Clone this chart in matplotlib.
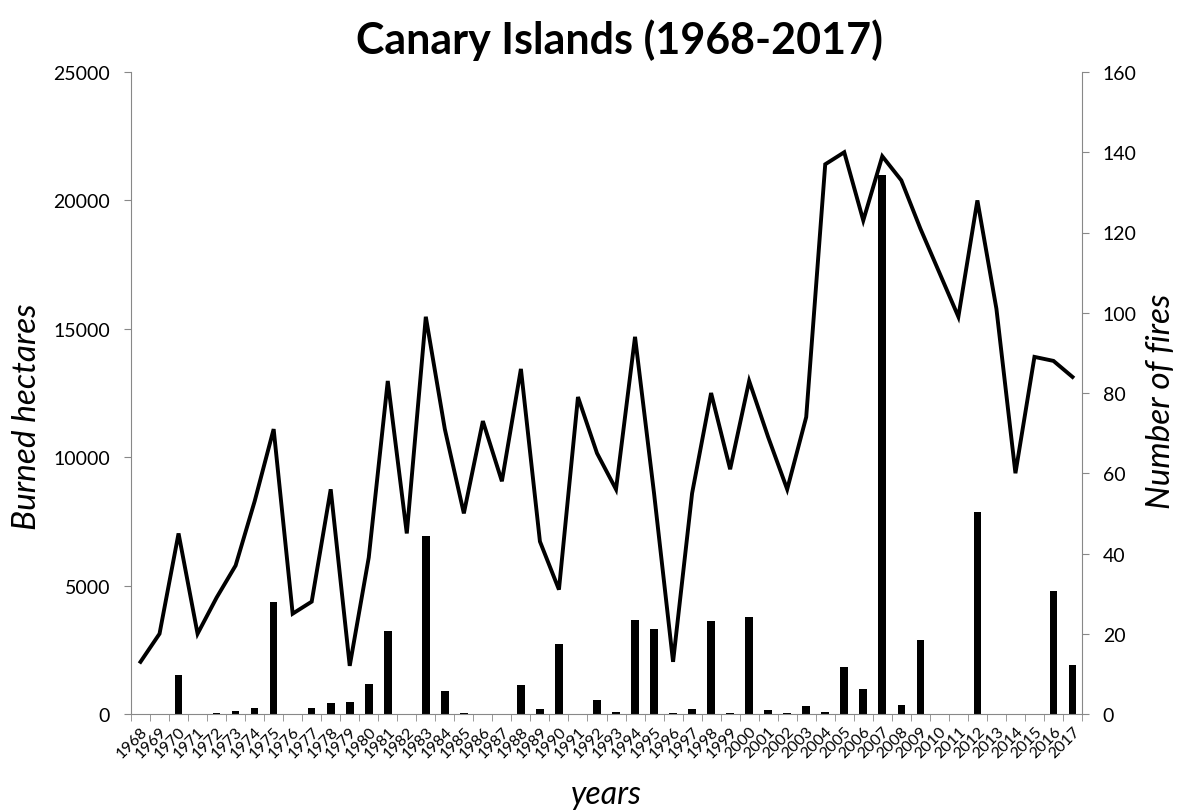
import numpy as np
import matplotlib
matplotlib.use("AGG")
import matplotlib.pyplot as plt

plt.rcParams['font.family'] = ['Lato', 'DejaVu Sans']

years = list(range(1968, 2018))

# burned hectares per year (bars, left axis)
hectares = [0, 0, 1530, 10, 50, 130, 245, 4380, 10, 220,
            430, 480, 1180, 3240, 10, 6920, 880, 50, 0, 0,
            1115, 180, 2725, 10, 560, 90, 3670, 3310, 50, 210,
            3630, 50, 3775, 155, 50, 325, 80, 1830, 985, 21000,
            350, 2870, 0, 0, 7870, 10, 0, 5, 4780, 1910]

# number of fires per year (line, right axis)
fires = [13, 20, 45, 20, 29, 37, 53, 71, 25, 28,
         56, 12, 39, 83, 45, 99, 71, 50, 73, 58,
         86, 43, 31, 79, 65, 56, 94, 55, 13, 55,
         80, 61, 83, 69, 56, 74, 137, 140, 123, 139,
         133, 121, 110, 99, 128, 101, 60, 89, 88, 84]

axis_grey = '#888888'
W, H = 1182, 812

fig = plt.figure(figsize=(W / 100, H / 100), dpi=100)
ax = fig.add_axes([131 / W, 1 - 715 / H, (1082 - 131) / W, (715 - 73) / H])
x = np.arange(len(years))

ax.bar(x, hectares, width=0.4, color='black', zorder=2)
ax.set_xlim(-0.5, len(years) - 0.5)
ax.set_ylim(0, 25000)
ax.set_yticks([0, 5000, 10000, 15000, 20000, 25000])
ax.set_xticks(x)
ax.set_xticklabels([str(y) for y in years], rotation=45, ha='right',
                   rotation_mode='anchor', fontsize=11.5)
ax.set_xticks(np.arange(-0.5, len(years)), minor=True)
ax.tick_params(axis='x', which='major', length=0, pad=7)
ax.tick_params(axis='x', which='minor', length=5, color=axis_grey)
ax.tick_params(axis='y', length=5, color=axis_grey, labelsize=14, pad=10)
for side in ['top', 'right']:
    ax.spines[side].set_visible(False)
for side in ['left', 'bottom']:
    ax.spines[side].set_color(axis_grey)

ax2 = ax.twinx()
ax2.plot(x, fires, color='black', lw=2.8, solid_joinstyle='miter', zorder=3)
ax2.set_ylim(0, 160)
ax2.set_yticks(range(0, 161, 20))
ax2.tick_params(axis='y', length=5, color=axis_grey, labelsize=14, pad=10)
for side in ['top', 'left', 'bottom']:
    ax2.spines[side].set_visible(False)
ax2.spines['right'].set_color(axis_grey)

# axis titles placed like the original
fig.text(27 / W, 1 - 417 / H, 'Burned hectares', rotation=90, fontsize=24,
         style='italic', ha='center', va='center')
fig.text(1161 / W, 1 - 401 / H, 'Number of fires', rotation=90, fontsize=24,
         style='italic', ha='center', va='center')
fig.text(606 / W, 1 - 795 / H, 'years', fontsize=23, style='italic',
         ha='center', va='center')
fig.text(620 / W, 1 - 40 / H, 'Canary Islands (1968-2017)', fontsize=31,
         fontweight='bold', ha='center', va='center')

plt.savefig('out.png', dpi=100)
